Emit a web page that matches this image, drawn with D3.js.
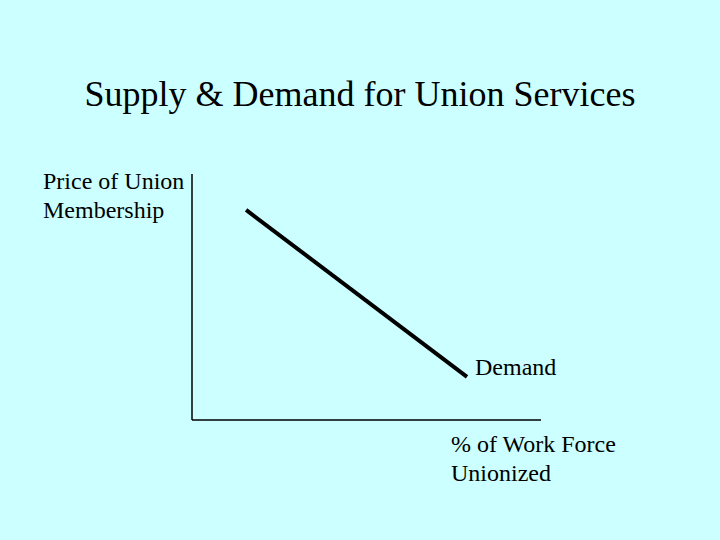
<!DOCTYPE html>
<html>
<head>
<meta charset="utf-8">
<script src="https://cdn.jsdelivr.net/npm/d3@7"></script>
<style>
  html, body { margin: 0; padding: 0; background: #ccffff; }
  svg { display: block; font-family: "Liberation Serif", "Times New Roman", serif; }
</style>
</head>
<body>
<script>
'use strict';

// Data
const title = 'Supply & Demand for Union Services';
const yLabel = ['Price of Union', 'Membership'];
const xLabel = ['% of Work Force', 'Unionized'];
const demandName = 'Demand';
const demandX = [15.5, 78.8];
const demandY = [85.4, 17.5];

const width = 720, height = 540;
const svg = d3.select('body').append('svg')
  .attr('width', width)
  .attr('height', height);

svg.append('rect').attr('width', width).attr('height', height).attr('fill', '#ccffff');

const x = d3.scaleLinear().domain([0, 100]).range([192, 541]);
const y = d3.scaleLinear().domain([0, 100]).range([420, 174]);

// Title
svg.append('text')
  .attr('x', 360).attr('y', 106)
  .attr('text-anchor', 'middle')
  .attr('font-size', 36)
  .text(title);

// Axes
const axes = svg.append('g').attr('stroke', '#000').attr('stroke-width', 1.5).attr('fill', 'none');
axes.append('line').attr('x1', x(0)).attr('x2', x(0)).attr('y1', y(100)).attr('y2', y(0));
axes.append('line').attr('x1', x(0)).attr('x2', x(100)).attr('y1', y(0)).attr('y2', y(0));

// Demand curve
const pts = demandX.map((d, i) => [d, demandY[i]]);
svg.append('path')
  .datum(pts)
  .attr('d', d3.line().x(d => x(d[0])).y(d => y(d[1])))
  .attr('stroke', '#000')
  .attr('stroke-width', 4)
  .attr('fill', 'none');

svg.append('text')
  .attr('x', 475).attr('y', 375)
  .attr('font-size', 24)
  .text(demandName);

// Axis labels
svg.append('g').selectAll('text')
  .data(yLabel).enter().append('text')
  .attr('x', 43)
  .attr('y', (d, i) => 189 + i * 29)
  .attr('font-size', 24)
  .text(d => d);

svg.append('g').selectAll('text')
  .data(xLabel).enter().append('text')
  .attr('x', 451)
  .attr('y', (d, i) => 452 + i * 29)
  .attr('font-size', 24)
  .text(d => d);
</script>
</body>
</html>
